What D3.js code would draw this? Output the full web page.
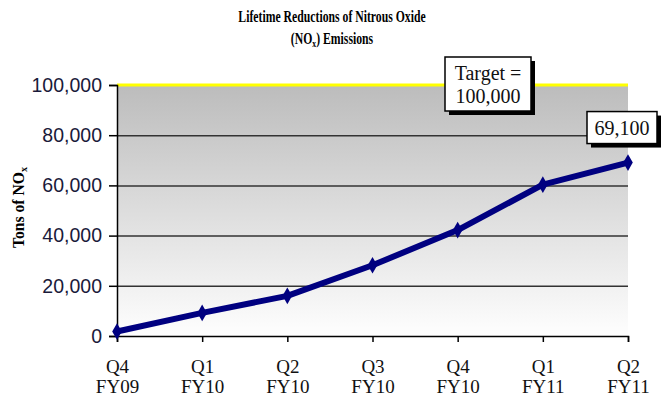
<!DOCTYPE html>
<html>
<head>
<meta charset="utf-8">
<script src="https://cdn.jsdelivr.net/npm/d3@7"></script>
<style>
  body { margin: 0; background: #fff; }
  svg { display: block; }
</style>
</head>
<body>
<div class="canva"></div>
<script>
// chart data
const quarters = ["Q4", "Q1", "Q2", "Q3", "Q4", "Q1", "Q2"];
const fiscalYears = ["FY09", "FY10", "FY10", "FY10", "FY10", "FY11", "FY11"];
const tonsNOx = [1800, 9200, 16000, 28200, 42200, 60300, 69100];
const yTicks = [0, 20000, 40000, 60000, 80000, 100000];
const target = 100000;
const lastLabel = "69,100";

const width = 661, height = 410;
const plotLeft = 117, plotRight = 628, plotTop = 85, plotBottom = 336;

const keys = quarters.map((q, i) => i);

const svg = d3.select(".canva").append("svg")
  .attr("width", width)
  .attr("height", height);

const defs = svg.append("defs");
const grad = defs.append("linearGradient")
  .attr("id", "bg").attr("x1", 0).attr("y1", 0).attr("x2", 0).attr("y2", 1);
grad.append("stop").attr("offset", "0%").attr("stop-color", "#bcbcbc");
grad.append("stop").attr("offset", "100%").attr("stop-color", "#fefefe");

const x = d3.scalePoint().domain(keys).range([plotLeft, plotRight]);
const y = d3.scaleLinear().domain([0, 100000]).range([plotBottom, plotTop]);

// plot background
svg.append("rect")
  .attr("x", plotLeft).attr("y", y(100000))
  .attr("width", plotRight - plotLeft).attr("height", y(0) - y(100000))
  .attr("fill", "url(#bg)");

// gridlines
svg.append("g")
  .attr("transform", `translate(${plotLeft},0)`)
  .call(d3.axisLeft(y).tickValues(yTicks.filter(d => d > 0 && d < target))
    .tickSize(-(plotRight - plotLeft)).tickFormat(""))
  .call(g => g.select(".domain").remove())
  .call(g => g.selectAll("line").attr("stroke", "#333").attr("stroke-width", 1.5));

// target line
svg.append("line")
  .attr("x1", plotLeft).attr("x2", plotRight)
  .attr("y1", y(target)).attr("y2", y(target))
  .attr("stroke", "#ffff00").attr("stroke-width", 3);

// y axis
svg.append("g")
  .attr("transform", `translate(${plotLeft},0)`)
  .call(d3.axisLeft(y).tickValues(yTicks).tickFormat(d3.format(",")).tickSize(8).tickPadding(7))
  .call(g => g.selectAll("line, path").attr("stroke", "#000").attr("stroke-width", 1.5))
  .call(g => g.selectAll("text")
    .attr("font-family", "Liberation Sans, Arial, sans-serif")
    .attr("font-size", 19.5).attr("fill", "#1a1a3a"));

// x axis
const xAxis = svg.append("g")
  .attr("transform", `translate(0,${plotBottom})`)
  .call(d3.axisBottom(x).tickSize(6).tickFormat(""))
  .call(g => g.selectAll("line, path").attr("stroke", "#000").attr("stroke-width", 1.5));

xAxis.selectAll(".tick").append("text")
  .attr("font-family", "Liberation Serif, Times New Roman, serif")
  .attr("font-size", 19).attr("fill", "#111")
  .attr("text-anchor", "middle")
  .each(function(d) {
    const t = d3.select(this);
    t.append("tspan").attr("x", 0).attr("y", 37).text(quarters[d]);
    t.append("tspan").attr("x", 0).attr("y", 57).text(fiscalYears[d]);
  });

// line
const line = d3.line().x((d, i) => x(i)).y(d => y(d));
svg.append("path")
  .datum(tonsNOx)
  .attr("d", line)
  .attr("fill", "none")
  .attr("stroke", "#000080")
  .attr("stroke-width", 6)
  .attr("stroke-linejoin", "round");

svg.selectAll(".marker")
  .data(tonsNOx)
  .enter().append("path")
  .attr("class", "marker")
  .attr("d", d3.symbol(d3.symbolDiamond, 80))
  .attr("transform", (d, i) => `translate(${x(i)},${y(d)})`)
  .attr("fill", "#000080");

// title (narrow bold serif)
const titleFont = "Liberation Serif, Times New Roman, serif";
const titleG = svg.append("g")
  .attr("transform", "translate(332,0) scale(0.69,1)")
  .attr("font-family", titleFont)
  .attr("font-weight", "bold").attr("font-size", 17)
  .attr("text-anchor", "middle");
titleG.append("text").attr("x", 0).attr("y", 22)
  .text("Lifetime Reductions of Nitrous Oxide");
const t2 = titleG.append("text").attr("x", 0).attr("y", 44);
t2.append("tspan").text("(NO");
t2.append("tspan").attr("font-size", 11).attr("dy", 3).text("x");
t2.append("tspan").attr("dy", -3).text(") Emissions");

// y axis title
const yt = svg.append("text")
  .attr("font-family", titleFont)
  .attr("font-weight", "bold").attr("font-size", 17)
  .attr("text-anchor", "middle")
  .attr("transform", `translate(24,${(plotTop + plotBottom) / 2 - 3}) rotate(-90) scale(0.92,1)`);
yt.append("tspan").text("Tons of NO");
yt.append("tspan").attr("font-size", 11).attr("dy", 3).text("x");

// callout boxes
function callout(x0, y0, w, h, lines) {
  const g = svg.append("g");
  g.append("rect").attr("x", x0 + 4).attr("y", y0 + 4).attr("width", w).attr("height", h).attr("fill", "#000");
  g.append("rect").attr("x", x0).attr("y", y0).attr("width", w).attr("height", h)
    .attr("fill", "#fff").attr("stroke", "#000").attr("stroke-width", 1.5);
  const t = g.append("text")
    .attr("font-family", titleFont)
    .attr("font-size", 20).attr("text-anchor", "middle").attr("fill", "#111");
  lines.forEach((s, i) => {
    t.append("tspan").attr("x", x0 + w / 2).attr("y", y0 + 23 + i * 23).text(s);
  });
}
callout(445, 57, 86, 54, ["Target =", d3.format(",")(target)]);
callout(x(6) - 41, y(tonsNOx[6]) - 51, 70, 32, [lastLabel]);
</script>
</body>
</html>
